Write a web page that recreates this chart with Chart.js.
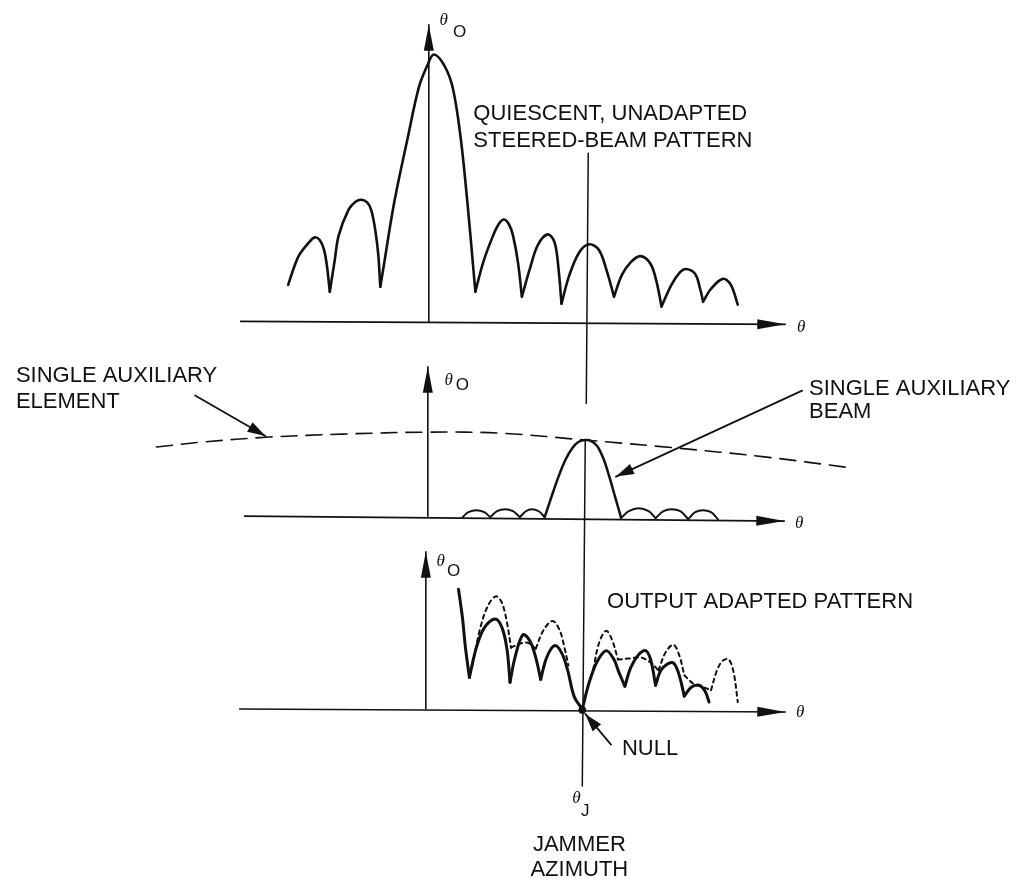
<!DOCTYPE html>
<html><head><meta charset="utf-8">
<script src="https://cdn.jsdelivr.net/npm/chart.js@4"></script>
<style>html,body{margin:0;padding:0;background:#fff}#wrap{width:1022px;height:887px;position:relative}</style>
</head><body><div id="wrap"><canvas id="c"></canvas></div>
<script>
// ---- data (diagram units) ----
// quiescent, unadapted steered-beam pattern: one array per lobe
const quiescentLobes = [
  [[286,283],[292,265],[297,253],[307,240],[313,235],[318,238],[322,247],[325,263],[328,290]],
  [[328,290],[333,258],[337,233],[347,207],[354,199],[360,197],[366,200],[370,208],[374,228],[377,253],[379,285]],
  [[379,285],[382,267],[393,200],[407,133],[418,83],[427,60],[433,50],[443,60],[452,83],[460,133],[467,200],[473,267],[475,290]],
  [[475,290],[483,260],[493,233],[499,221],[504,217],[509,222],[513,233],[518,260],[522,295]],
  [[522,295],[530,267],[538,243],[548,232],[555,240],[559,267],[562,302]],
  [[562,302],[570,273],[580,250],[590,242],[600,248],[608,270],[615,295]],
  [[615,295],[623,273],[632,260],[642,254],[652,262],[658,280],[663,305]],
  [[663,305],[673,283],[682,270],[688,267],[697,272],[702,287],[705,300]],
  [[705,300],[713,287],[725,277],[733,283],[740,303]]
];
// single auxiliary element pattern (dashed, broad)
const auxElement = [[153,447],[200,442],[267,437],[340,434],[427,432],[500,433],[586,440],[677,448],[767,457],[853,468]];
// single auxiliary beam: main beam + small sidelobes
const auxBeam = [[545,518],[552,497],[559,477],[566,460],[573,448],[579,442],[586,440],[592,441],[598,446],[604,458],[610,476],[616,497],[622,518]];
const auxSidelobes = [
  [[462,518],[468,513],[476,511],[484,513],[490,518]],
  [[490,518],[497,512],[505,510],[513,512],[520,518]],
  [[520,518],[526,512],[532,510],[539,512],[545,518]],
  [[622,519],[630,512],[640,509],[650,512],[657,519]],
  [[657,519],[665,512],[673,510],[682,512],[690,520]],
  [[690,520],[697,513],[705,511],[713,513],[720,520]]
];
// output adapted pattern (solid) and quiescent reference (dashed)
const adaptedLobes = [
  [[458,591],[462,620],[465,650],[469,680]],
  [[469,680],[476,650],[484,630],[495,621],[502,630],[507,652],[510,685]],
  [[510,685],[515,660],[523,637],[530,643],[536,660],[541,682]],
  [[541,682],[547,660],[555,648],[562,655],[568,672],[575,700],[583,712]],
  [[583,712],[590,685],[598,664],[607,653],[615,662],[620,675],[626,689]],
  [[626,689],[632,670],[640,657],[647,653],[652,662],[657,688]],
  [[657,688],[663,672],[674,665],[680,675],[686,699]],
  [[686,699],[693,690],[701,688],[707,694],[711,705]]
];
const quiescentRef = [
  [[472,668],[480,630],[488,607],[496,598],[502,605],[507,625],[511,650]],
  [[511,650],[520,646],[528,645],[536,651]],
  [[536,651],[544,632],[553,623],[560,632],[565,650],[569,668]],
  [[594,672],[600,645],[607,633],[613,642],[619,662]],
  [[619,662],[630,661],[642,660],[652,665],[660,673]],
  [[660,673],[667,655],[675,647],[681,658],[686,678]],
  [[686,678],[696,687],[705,690],[713,693]],
  [[713,693],[719,673],[725,663],[731,662],[736,676],[740,705]]
];
const nullPoint = [[583,713]];
// axes: [start, tip]
const thetaAxes = [[[238,320],[788,323]], [[242,517],[787,522]], [[237,712],[788,715]]];
const gainAxes  = [[[428,320],[428,20]], [[427,517],[427,366]], [[425,712],[425,553]]];
const jammerLine = [[[589,150],[587,403]], [[586,440],[583,790]]];
const pointers = [[[192,395],[263,436]], [[805,390],[617,477]], [[612,748],[586,717]]];
// texts
const captions = [
  ['QUIESCENT, UNADAPTED', 473, 108], ['STEERED-BEAM PATTERN', 473, 136],
  ['SINGLE AUXILIARY', 11, 373], ['ELEMENT', 11, 400],
  ['SINGLE AUXILIARY', 812, 386], ['BEAM', 812, 410],
  ['OUTPUT ADAPTED PATTERN', 608, 602], ['NULL', 623, 750]
];
const centeredCaptions = [['JAMMER', 580, 848], ['AZIMUTH', 580, 873]];
const thetaLabels = [[804,326],[802,524],[803,716],[443,16],[448,380],[440,563],[577,803]];
const subLabels = [['O',459,28],['O',462,385],['O',453,573],['J',586,816]];

// ---- build ----
const P = a => a.map(([x,y]) => ({x, y}));
const INK = '#111';
const ds = [];
function line(pts, w, dash, extra) {
  ds.push(Object.assign({type:'scatter', showLine:true, data:P(pts), borderColor:INK, backgroundColor:INK,
    borderWidth:w, borderDash:dash||[], pointRadius:0, cubicInterpolationMode:'default', tension:0.35,
    borderCapStyle:'round', borderJoinStyle:'round'}, extra||{}));
}
thetaAxes.forEach(a => line(a, 1.6, null, {tension:0}));
gainAxes.forEach(a => line(a, 1.6, null, {tension:0}));
jammerLine.forEach(a => line(a, 1.5, null, {tension:0}));
pointers.forEach(a => line(a, 1.8, null, {tension:0}));
quiescentLobes.forEach(l => line(l, 2.6));
line(auxElement, 1.6, [16,9]);
auxSidelobes.forEach(l => line(l, 2.0));
line(auxBeam, 2.5);
quiescentRef.forEach(l => line(l, 2.0, [4,4]));
adaptedLobes.forEach(l => line(l, 3.0));
ds.push({type:'scatter', data:P(nullPoint), pointRadius:3.5, backgroundColor:INK, borderColor:INK});

const decor = {
  id:'decor',
  beforeDraw(c){ const x=c.ctx; x.save(); x.fillStyle='#fff'; x.fillRect(0,0,c.width,c.height); x.restore(); },
  afterDatasetsDraw(c){
    const ctx=c.ctx, sx=c.scales.x, sy=c.scales.y;
    const px=v=>sx.getPixelForValue(v), py=v=>sy.getPixelForValue(v);
    function head(from,to,len,hw){
      const x1=px(from[0]),y1=py(from[1]),x2=px(to[0]),y2=py(to[1]);
      const a=Math.atan2(y2-y1,x2-x1);
      ctx.beginPath(); ctx.moveTo(x2,y2);
      ctx.lineTo(x2-len*Math.cos(a)+hw*Math.sin(a), y2-len*Math.sin(a)-hw*Math.cos(a));
      ctx.lineTo(x2-len*Math.cos(a)-hw*Math.sin(a), y2-len*Math.sin(a)+hw*Math.cos(a));
      ctx.closePath(); ctx.fill();
    }
    ctx.save(); ctx.fillStyle=INK;
    thetaAxes.forEach(a=>head(a[0],a[1],28,5));
    gainAxes.forEach(a=>head(a[0],a[1],26,5));
    pointers.forEach(a=>head(a[0],a[1],18,5.5));
    ctx.font='22px "Liberation Sans", Arial, sans-serif';
    ctx.textBaseline='alphabetic'; ctx.textAlign='left';
    captions.forEach(([t,x,y])=>ctx.fillText(t,px(x),py(y)+8));
    ctx.textAlign='center';
    centeredCaptions.forEach(([t,x,y])=>ctx.fillText(t,px(x),py(y)+8));
    ctx.textBaseline='middle';
    ctx.font='italic 17px "Liberation Serif", "DejaVu Serif", serif';
    thetaLabels.forEach(([x,y])=>ctx.fillText('θ',px(x),py(y)));
    ctx.font='17px "Liberation Sans", Arial, sans-serif';
    subLabels.forEach(([t,x,y])=>ctx.fillText(t,px(x),py(y)));
    ctx.restore();
  }
};

new Chart(document.getElementById('c'), {
  type:'scatter',
  data:{datasets:ds},
  options:{
    responsive:true, maintainAspectRatio:false, animation:false, events:[],
    layout:{padding:0},
    plugins:{legend:{display:false}, tooltip:{enabled:false}},
    scales:{
      x:{type:'linear', min:0, max:1022, display:false},
      y:{type:'linear', min:0, max:887, reverse:true, display:false}
    }
  },
  plugins:[decor]
});
</script></body></html>
